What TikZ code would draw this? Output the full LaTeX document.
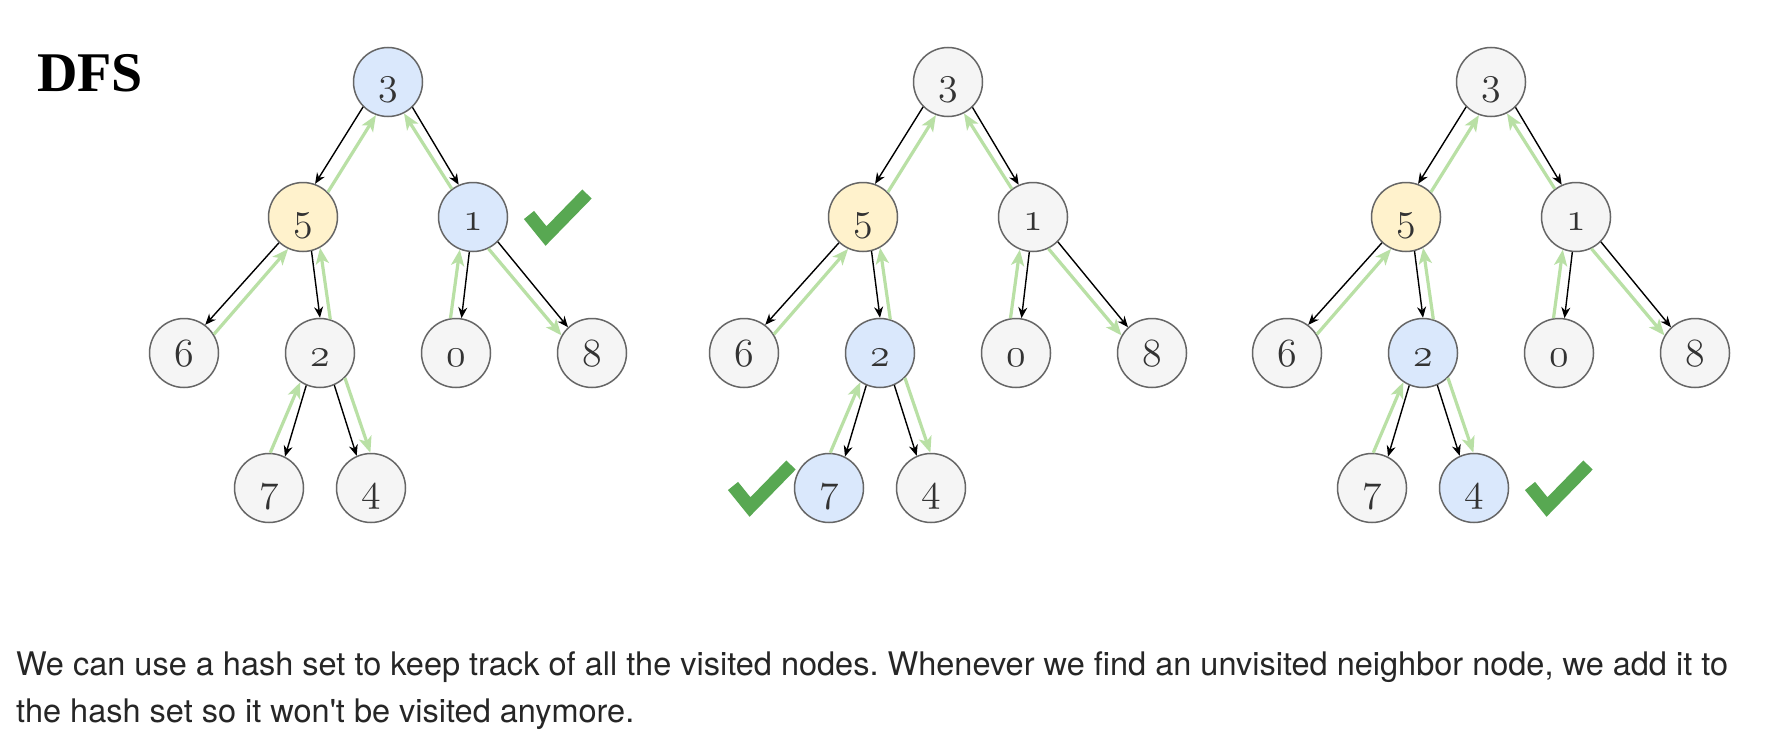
\RequirePackage{fix-cm}
\documentclass[tikz,border=0pt]{standalone}
\usepackage{fontspec}
\usetikzlibrary{arrows.meta,calc}
\newfontfamily\titlefont{Liberation Serif}
\newfontfamily\bodyfont[Ligatures=TeXOff]{TeX Gyre Heros}
\definecolor{nodegray}{HTML}{F5F5F5}
\definecolor{nodeblue}{HTML}{DAE8FC}
\definecolor{nodeyellow}{HTML}{FFF2CC}
\definecolor{nodestroke}{HTML}{666666}
\definecolor{backgreen}{HTML}{B9E0A5}
\definecolor{checkgreen}{RGB}{88,168,82}
\definecolor{digitgray}{HTML}{333333}
\definecolor{bodytext}{HTML}{262626}
\frenchspacing
\tikzset{
  tnode/.style={circle, draw=nodestroke, line width=1.5pt, minimum size=69pt,
    inner sep=0pt, text height=26pt, text depth=0pt, text=digitgray,
    font=\fontsize{40}{48}\usefont{OML}{cmm}{m}{it}},
  fillgray/.style={tnode, fill=nodegray},
  fillblue/.style={tnode, fill=nodeblue},
  fillyellow/.style={tnode, fill=nodeyellow},
  fwd/.style={draw=black, line width=1.4pt, -{Stealth[length=11pt,width=9pt]}},
  back/.style={draw=backgreen, line width=3.2pt, -{Stealth[length=16pt,width=13pt,inset=4pt]}},
  tick/.style={draw=checkgreen, line width=13pt, line join=miter, line cap=butt},
  txt/.style={anchor=base west, inner sep=0pt}
}
% #1 prefix, #2 root x, #3 fill of 3, #4 fill of 1, #5 fill of 2, #6 fill of 7, #7 fill of 4
\newcommand{\dfstree}[7]{%
  \begin{scope}[shift={(#2,0)}]
    \node[#3] (#1n3) at (0,82) {3};
    \node[fillyellow] (#1n5) at (-85,217) {5};
    \node[#4] (#1n1) at (85,217) {1};
    \node[fillgray] (#1n6) at (-204,353) {6};
    \node[#5] (#1n2) at (-68,353) {2};
    \node[fillgray] (#1n0) at (68,353) {0};
    \node[fillgray] (#1n8) at (204,353) {8};
    \node[#6] (#1n7) at (-119,488) {7};
    \node[#7] (#1n4) at (-17,488) {4};
  \end{scope}
  \draw[back] (#1n5.45) -- (#1n3.-110);
  \draw[back] (#1n1.127) -- (#1n3.-63.4);
  \draw[back] (#1n6.32) -- (#1n5.-115);
  \draw[back] (#1n2.73.5) -- (#1n5.-61.4);
  \draw[back] (#1n0.99.7) -- (#1n1.-112);
  \draw[back] (#1n1.-64.6) -- (#1n8.150);
  \draw[back] (#1n7.88.9) -- (#1n2.-124);
  \draw[back] (#1n2.-45.4) -- (#1n4.91.6);
  \draw[fwd] (#1n3.-135) -- (#1n5.70.7);
  \draw[fwd] (#1n3.-46.8) -- (#1n1.114);
  \draw[fwd] (#1n5.-133) -- (#1n6.53.6);
  \draw[fwd] (#1n5.-76.6) -- (#1n2.90);
  \draw[fwd] (#1n1.-96) -- (#1n0.81);
  \draw[fwd] (#1n1.-45) -- (#1n8.133);
  \draw[fwd] (#1n2.-113) -- (#1n7.63.7);
  \draw[fwd] (#1n2.-66) -- (#1n4.114.6);
}
\newcommand{\checkat}[2]{%
  \coordinate (#1) at #2;
  \draw[tick] ($(#1)+(-17,-21)$) -- (#1) -- ($(#1)+(41,-42)$);
}
\begin{document}
\begin{tikzpicture}[x=1pt,y=-1pt]
  \path[use as bounding box, fill=white] (0,0) rectangle (1778,752);
  \node[txt, font=\titlefont\bfseries\fontsize{56}{60}\selectfont] (title) at (37,92) {DFS};

  \dfstree{a}{388}{fillblue}{fillblue}{fillgray}{fillgray}{fillgray}
  \dfstree{b}{948}{fillgray}{fillgray}{fillblue}{fillblue}{fillgray}
  \dfstree{c}{1491}{fillgray}{fillgray}{fillblue}{fillgray}{fillblue}

  \checkat{v1}{($(an1)+(73,19)$)}
  \checkat{v2}{($(bn7)+(-79,19)$)}
  \checkat{v3}{($(cn4)+(73,19)$)}

  \node[txt, font=\bodyfont\fontsize{32.5}{40}\selectfont, text=bodytext] (line1) at (16,675)
    {We can use a hash set to keep track of all the visited nodes. Whenever we find an unvisited neighbor node, we add it to};
  \node[txt, font=\bodyfont\fontsize{32.5}{40}\selectfont, text=bodytext] (line2) at (16,722)
    {the hash set so it won't be visited anymore.};
\end{tikzpicture}
\end{document}
